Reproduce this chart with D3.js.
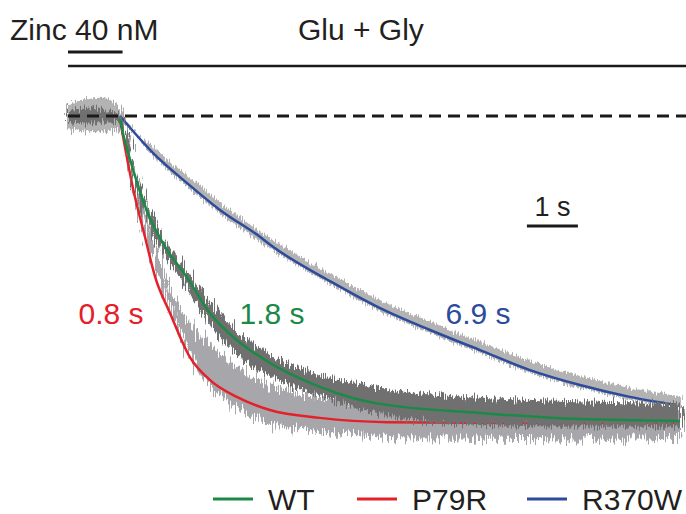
<!DOCTYPE html>
<html>
<head>
<meta charset="utf-8">
<script src="https://cdn.jsdelivr.net/npm/d3@7"></script>
<style>
  html, body { margin: 0; padding: 0; background: #fff; }
  svg text { font-family: "Liberation Sans", Arial, Helvetica, sans-serif; }
</style>
</head>
<body>
<svg id="chart" width="686" height="514"></svg>
<script>
// time in s (0 = end of zinc), current normalised to WT steady state (0 = baseline)
const seriesNames = ['WT', 'P79R', 'R370W']
const tauLabels = ['1.8 s', '0.8 s', '6.9 s']

// fitted curves [t, I]
const wtFit = [[0, -0.01], [0.03, -0.035], [0.26, -0.178], [0.52, -0.309], [0.84, -0.418], [1.31, -0.53],
  [1.76, -0.648], [2.29, -0.737], [2.94, -0.812], [3.59, -0.868], [4.25, -0.911], [4.90, -0.941],
  [5.10, -0.947], [7.06, -0.977], [9.02, -0.997], [10.98, -1.003]]
const p79rFit = [[0, -0.01], [0.03, -0.039], [0.25, -0.234], [0.49, -0.398], [0.69, -0.53], [0.98, -0.648],
  [1.37, -0.793], [1.76, -0.868], [2.29, -0.924], [2.94, -0.967], [3.92, -0.993], [5.24, -1.007],
  [8.0, -1.01], [10.98, -1.01]]
const r370wFit = [[0, 0], [0.65, -0.122], [1.31, -0.22], [1.96, -0.309], [2.75, -0.398], [3.0, -0.43],
  [4.18, -0.549], [5.10, -0.632], [6.08, -0.704], [7.06, -0.77], [8.04, -0.836], [9.02, -0.885],
  [10.0, -0.924], [10.92, -0.951]]

// recorded traces as noise envelope [t, upper, lower]
const wtTrace = [[-1.02, 0.02, -0.02], [-0.6, 0.025, -0.025], [0, 0.015, -0.02],
  [0.29, -0.175, -0.22], [0.59, -0.312, -0.362], [0.98, -0.432, -0.482], [1.37, -0.522, -0.585],
  [1.76, -0.612, -0.686], [2.29, -0.704, -0.785], [2.94, -0.782, -0.855], [3.59, -0.834, -0.9],
  [4.25, -0.866, -0.94], [4.90, -0.89, -0.97], [5.88, -0.913, -1.005], [7.45, -0.93, -1.018],
  [9.41, -0.94, -1.022], [11.0, -0.945, -1.022]]
const p79rTrace = [[-1.02, 0.035, -0.04], [-0.39, 0.055, -0.048], [-0.04, 0.03, -0.035], [0.04, 0, -0.05],
  [0.29, -0.19, -0.25], [0.59, -0.36, -0.45], [0.78, -0.45, -0.54], [0.98, -0.56, -0.635],
  [1.18, -0.63, -0.71], [1.57, -0.72, -0.855], [1.96, -0.78, -0.915], [2.55, -0.855, -0.99],
  [3.53, -0.915, -1.03], [4.31, -0.93, -1.045], [5.49, -0.955, -1.06], [7.45, -0.962, -1.062],
  [9.41, -0.965, -1.065], [11.0, -0.965, -1.062]]
const r370wTrace = [[-1.02, 0.035, -0.04], [-0.39, 0.06, -0.05], [-0.04, 0.03, -0.035], [0, 0.015, -0.01],
  [0.65, -0.1, -0.132], [1.31, -0.195, -0.232], [1.96, -0.284, -0.32], [3.0, -0.408, -0.442],
  [4.18, -0.524, -0.56], [5.10, -0.605, -0.642], [6.08, -0.676, -0.714], [7.06, -0.742, -0.78],
  [8.04, -0.805, -0.845], [9.02, -0.855, -0.894], [10.0, -0.894, -0.933], [10.92, -0.92, -0.96],
  [11.0, -0.922, -0.962]]

const zincOn = [-1.02, 0.05]
const gluOn = [-1.02, 11.1]
const scaleBarStart = 7.98 // 1 s bar

const colors = { 'WT': '#1b8a47', 'P79R': '#e4202a', 'R370W': '#2c4b9d' }

const svg = d3.select('#chart')
const x = d3.scaleLinear().domain([-1.02, 11.1]).range([68, 686])
const y = d3.scaleLinear().domain([0, -1]).range([116, 420])

// texture for the raw current traces (visual only, the envelope is the data)
const defs = svg.append('defs')
function jitterFilter(id, amount, seed) {
  const f = defs.append('filter').attr('id', id)
                .attr('x', '-5%').attr('y', '-30%').attr('width', '110%').attr('height', '160%')
  f.append('feTurbulence').attr('type', 'fractalNoise').attr('baseFrequency', '0.9 0.04')
   .attr('numOctaves', 2).attr('seed', seed).attr('result', 'turb')
  f.append('feDisplacementMap').attr('in', 'SourceGraphic').attr('in2', 'turb')
   .attr('scale', amount).attr('xChannelSelector', 'B').attr('yChannelSelector', 'G')
}
jitterFilter('noise-big', 26, 3)
jitterFilter('noise-mid', 18, 7)
jitterFilter('noise-small', 9, 11)

const area = d3.area().x(d => x(d[0])).y0(d => y(d[1])).y1(d => y(d[2])).curve(d3.curveMonotoneX)
const line = d3.line().x(d => x(d[0])).y(d => y(d[1])).curve(d3.curveMonotoneX)

// traces first, fits on top (WT trace covers the red tail)
svg.append('path').attr('d', area(p79rTrace)).attr('fill', '#a7a7ab').attr('filter', 'url(#noise-big)')
svg.append('path').attr('d', area(r370wTrace)).attr('fill', '#b3b3b3').attr('filter', 'url(#noise-small)')
svg.append('path').attr('d', line(p79rFit)).attr('fill', 'none').attr('stroke', colors['P79R']).attr('stroke-width', 2.5)
svg.append('path').attr('d', line(r370wFit)).attr('fill', 'none').attr('stroke', colors['R370W']).attr('stroke-width', 2.5)
svg.append('path').attr('d', area(wtTrace)).attr('fill', '#6f6f6f').attr('filter', 'url(#noise-mid)')
svg.append('path').attr('d', line(wtFit)).attr('fill', 'none').attr('stroke', colors['WT']).attr('stroke-width', 2.5)

// baseline dashed
svg.append('line')
   .attr('x1', x(gluOn[0])).attr('x2', x(gluOn[1]))
   .attr('y1', y(0)).attr('y2', y(0))
   .attr('stroke', '#1a1a1a').attr('stroke-width', 3)
   .attr('stroke-dasharray', '12,7')

// application bars
svg.append('line')
   .attr('x1', x(zincOn[0])).attr('x2', x(zincOn[1]))
   .attr('y1', 52).attr('y2', 52)
   .attr('stroke', '#1a1a1a').attr('stroke-width', 3)
svg.append('line')
   .attr('x1', x(gluOn[0])).attr('x2', x(gluOn[1]))
   .attr('y1', 66).attr('y2', 66)
   .attr('stroke', '#1a1a1a').attr('stroke-width', 2.5)

svg.append('text').attr('x', 10).attr('y', 40).attr('font-size', 30).attr('fill', '#231f20').text('Zinc 40 nM')
svg.append('text').attr('x', 298).attr('y', 40).attr('font-size', 30).attr('fill', '#231f20').text('Glu + Gly')

// scale bar
svg.append('line')
   .attr('x1', x(scaleBarStart)).attr('x2', x(scaleBarStart + 1))
   .attr('y1', 226).attr('y2', 226)
   .attr('stroke', '#1a1a1a').attr('stroke-width', 3)
svg.append('text')
   .attr('x', (x(scaleBarStart) + x(scaleBarStart + 1)) / 2).attr('y', 216)
   .attr('text-anchor', 'middle').attr('font-size', 27).attr('fill', '#231f20')
   .text('1 s')

// tau labels
const tauPos = { 'P79R': 111, 'WT': 272, 'R370W': 478 }
seriesNames.forEach((name, i) => {
  svg.append('text')
     .attr('x', tauPos[name]).attr('y', 324)
     .attr('text-anchor', 'middle').attr('font-size', 30)
     .attr('fill', colors[name])
     .text(tauLabels[i])
})

// legend
const legendX = { 'WT': 213, 'P79R': 357, 'R370W': 527 }
const legend = svg.selectAll('.legend-item')
                  .data(seriesNames)
                  .join('g')
                  .attr('class', 'legend-item')
                  .attr('transform', d => `translate(${legendX[d]},499)`)
legend.append('line')
      .attr('x1', 0).attr('x2', 40).attr('y1', 0).attr('y2', 0)
      .attr('stroke', d => colors[d]).attr('stroke-width', 3)
legend.append('text')
      .attr('x', 55).attr('y', 10.5)
      .attr('font-size', 30).attr('fill', '#231f20')
      .text(d => d)
</script>
</body>
</html>
